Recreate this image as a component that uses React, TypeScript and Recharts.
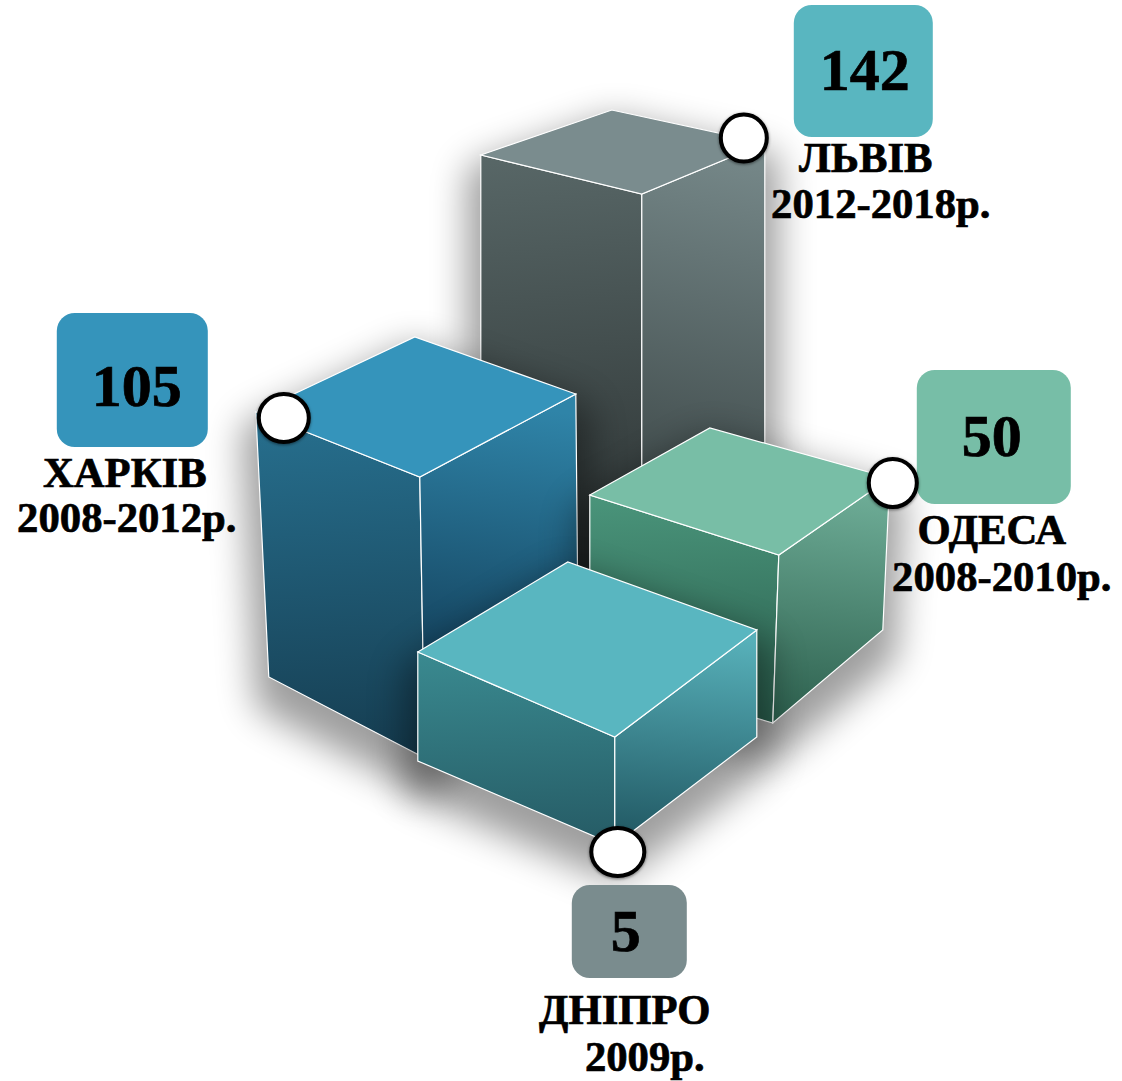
import { Bar, BarChart, LabelList, XAxis, YAxis } from "recharts";

// paint order: back box first, front box last
const cities = ["ЛЬВІВ", "ХАРКІВ", "ОДЕСА", "ДНІПРО"];
const periods = ["2012-2018р.", "2008-2012р.", "2008-2010р.", "2009р."];
const values = [142, 105, 50, 5];

const tableData = cities.map((city, i) => ({ city, period: periods[i], value: values[i] }));

const SERIF = "'Liberation Serif', 'Times New Roman', serif";

// the boxes are drawn in loose perspective, so each one carries its own shape.
// all offsets are relative to the top front corner of the box
const boxes = [
  {
    dx: 501.75, dy: 136.35,
    l: [-161, -39], b: [-30, -84], r: [123, -51], lb: [-161, 346], fb: [0, 406], rb: [123, 300],
    top: "#7a8c8e", left: ["#586767", "#2a3030"], right: ["#748687", "#2f3838"],
    marker: [102, -56, 23, 23.5], tile: [152, -189, 139, 132], tileFill: "#59b6c0",
    valueAt: [223, -104], nameAt: [224, -22], periodAt: [239, 24],
  },
  {
    dx: -0.75, dy: 152.7,
    l: [-164, -65], b: [-5, -140], r: [156, -83], lb: [-151, 200], fb: [5, 281], rb: [158, 123],
    top: "#3594bb", left: ["#27708f", "#163e52"], right: ["#2f84a8", "#0a2a42"],
    marker: [-136, -59, 25, 24], tile: [-363, -164, 151, 134], tileFill: "#3594bb",
    valueAt: [-283, -71], nameAt: [-295, 10], periodAt: [-293, 55],
  },
  {
    dx: 77.75, dy: -165.67,
    l: [-189, -60], b: [-69, -127], r: [111, -77], lb: [-189, 115], fb: [-6, 168], rb: [104, 75],
    top: "#78bea6", left: ["#4a957b", "#2a5e4d"], right: ["#6fae98", "#2c5f4d"],
    marker: [114, -72, 24, 24], tile: [138, -185, 154, 134], tileFill: "#77bea7",
    valueAt: [213, -99], nameAt: [213, -11], periodAt: [223, 36],
  },
  {
    dx: -366.75, dy: -307.97,
    l: [-197, -85], b: [-47, -175], r: [142, -107], lb: [-197, 24], fb: [0, 108], rb: [142, 0],
    top: "#59b6c0", left: ["#3a8a90", "#265c66"], right: ["#57b0b9", "#1f5560"],
    marker: [3, 115, 26.5, 24], tile: [-43, 148, 115, 93], tileFill: "#7a8c8e",
    valueAt: [11, 214], nameAt: [10, 287], periodAt: [30, 334],
  },
];

const topFront = (x: number, y: number, width: number, i: number) => ({
  fx: x + width / 2 + boxes[i].dx,
  fy: y + boxes[i].dy,
});

function BoxShape(props: any) {
  const { x, y, width, index } = props;
  const box = boxes[index];
  const { fx, fy } = topFront(x, y, width, index);
  const pts = (list: number[][]) => list.map(p => `${fx + p[0]},${fy + p[1]}`).join(" ");
  const f = [0, 0];
  return (
    <g>
      <defs>
        <linearGradient id={`left${index}`} x1="0" y1="0" x2="0.03" y2="1">
          <stop offset="0%" stopColor={box.left[0]} />
          <stop offset="100%" stopColor={box.left[1]} />
        </linearGradient>
        <linearGradient id={`right${index}`} x1="0.06" y1="0" x2="0" y2="1">
          <stop offset="0%" stopColor={box.right[0]} />
          <stop offset="100%" stopColor={box.right[1]} />
        </linearGradient>
      </defs>
      <polygon
        points={pts([box.l, box.b, box.r, box.rb, box.fb, box.lb])}
        fill="#000"
        stroke="#000"
        strokeWidth={28}
        strokeLinejoin="round"
        opacity={0.38}
        filter="url(#boxShadow)"
      />
      <polygon points={pts([box.l, f, box.fb, box.lb])} fill={`url(#left${index})`} stroke="#fff" strokeWidth={1.2} />
      <polygon points={pts([f, box.r, box.rb, box.fb])} fill={`url(#right${index})`} stroke="#fff" strokeWidth={1.2} />
      <polygon points={pts([box.l, box.b, box.r, f])} fill={box.top} stroke="#fff" strokeWidth={1.2} />
    </g>
  );
}

function Callout(props: any) {
  const { x, y, width, index, value } = props;
  const box = boxes[index];
  const { fx, fy } = topFront(x, y, width, index);
  const [mx, my, mrx, mry] = box.marker;
  const [tx, ty, tw, th] = box.tile;
  const textStyle = { fontFamily: SERIF, fontWeight: 700, fill: "#000", stroke: "#000", strokeWidth: 0.7 };
  return (
    <g>
      <rect x={fx + tx} y={fy + ty} width={tw} height={th} rx={18} ry={18} fill={box.tileFill} />
      <ellipse cx={fx + mx} cy={fy + my} rx={mrx} ry={mry} fill="#fff" stroke="#000" strokeWidth={4} filter="url(#markerShadow)" />
      <text x={fx + box.valueAt[0]} y={fy + box.valueAt[1]} textAnchor="middle" fontSize={60} {...textStyle}>
        {value}
      </text>
      <text x={fx + box.nameAt[0]} y={fy + box.nameAt[1]} textAnchor="middle" fontSize={42.7} {...textStyle}>
        {cities[index]}
      </text>
      <text x={fx + box.periodAt[0]} y={fy + box.periodAt[1]} textAnchor="middle" fontSize={42.7} {...textStyle}>
        {periods[index]}
      </text>
    </g>
  );
}

export default function App() {
  return (
    <div style={{ position: "absolute", left: 0, top: 0, width: 1122, height: 1081, background: "#fff" }}>
      <BarChart width={1122} height={1081} data={tableData} margin={{ top: 0, right: 0, bottom: 0, left: 0 }}>
        <defs>
          <filter id="boxShadow" filterUnits="userSpaceOnUse" x="0" y="0" width="1122" height="1081">
            <feOffset dx="0" dy="22" />
            <feGaussianBlur stdDeviation="18" />
          </filter>
          <filter id="markerShadow" x="-20%" y="-20%" width="140%" height="140%">
            <feDropShadow dx="0" dy="1" stdDeviation="1.5" floodColor="#000" floodOpacity={0.5} />
          </filter>
        </defs>
        <XAxis dataKey="city" hide />
        <YAxis domain={[0, 150]} hide />
        <Bar dataKey="value" shape={BoxShape} isAnimationActive={false}>
          <LabelList dataKey="value" content={Callout} />
        </Bar>
      </BarChart>
    </div>
  );
}
